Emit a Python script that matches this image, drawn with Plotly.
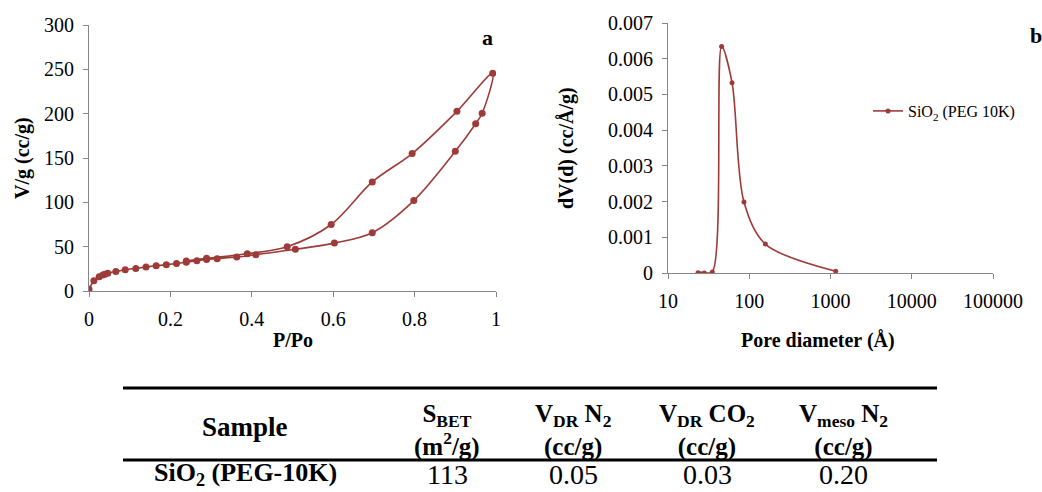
import plotly.graph_objects as go

W, H = 1042, 492
RED = "#9E3A38"
AXC = "#868686"
SERIF = "Liberation Serif"

# ---- chart a: N2 isotherm (adsorption then desorption, one Excel series) ----
iso_p = [0.0, 0.012, 0.025, 0.034, 0.039, 0.046, 0.066, 0.089, 0.115, 0.140,
         0.165, 0.190, 0.215, 0.239, 0.265, 0.289, 0.315, 0.363, 0.410, 0.507,
         0.603, 0.696, 0.798, 0.900, 0.950, 0.966, 0.992,
         0.904, 0.794, 0.696, 0.595, 0.487, 0.389, 0.289, 0.239]
iso_v = [1.9, 11.7, 16.0, 18.0, 19.0, 20.0, 22.0, 24.0, 25.5, 27.0,
         28.5, 29.7, 31.0, 32.5, 34.0, 35.5, 36.5, 38.3, 41.0, 47.0,
         54.0, 65.8, 102.0, 157.5, 188.7, 200.5, 245.5,
         202.6, 155.0, 123.0, 75.0, 50.0, 42.0, 36.8, 33.8]

# ---- chart b: pore size distribution ----
pore_d = [23.4, 25.5, 28.0, 35.1, 45.7, 61.4, 86.1, 157.8, 1159.0]
pore_dv = [0.00001, -0.00002, 0.0, 0.00003, 0.00634, 0.00533, 0.00199, 0.00081, 0.00005]

series_name = "SiO<sub>2</sub> (PEG 10K)"

# ---- table ----
tbl_head1 = ["Sample", "S<sub>BET</sub>", "V<sub>DR</sub> N<sub>2</sub>",
             "V<sub>DR</sub> CO<sub>2</sub>", "V<sub>meso</sub> N<sub>2</sub>"]
tbl_head2 = ["", "(m<sup>2</sup>/g)", "(cc/g)", "(cc/g)", "(cc/g)"]
tbl_row = ["SiO<sub>2</sub> (PEG-10K)", "113", "0.05", "0.03", "0.20"]
col_x = [245, 447, 573, 707, 843]

fig = go.Figure()
fig.add_trace(go.Scatter(x=iso_p, y=iso_v, mode="lines+markers", name=series_name,
                         line=dict(color=RED, width=1.6, shape="spline", smoothing=0.9),
                         marker=dict(color=RED, size=7),
                         xaxis="x", yaxis="y", legend="legend"))
fig.add_trace(go.Scatter(x=pore_d, y=pore_dv, mode="lines+markers", name=series_name,
                         line=dict(color=RED, width=1.6, shape="spline", smoothing=0.9),
                         marker=dict(color=RED, size=5),
                         xaxis="x2", yaxis="y2", legend="legend2"))

def px(x):
    return x / W

def py(y):
    return 1 - y / H

axis_common = dict(showline=True, linecolor=AXC, linewidth=1, ticks="outside",
                   ticklen=5, tickcolor=AXC, showgrid=False, zeroline=False,
                   tickfont=dict(family=SERIF, size=20, color="#000"),
                   ticklabelstandoff=5)

fig.update_layout(
    width=W, height=H, margin=dict(l=0, r=0, t=0, b=0, autoexpand=False),
    paper_bgcolor="white", plot_bgcolor="white",
    font=dict(family=SERIF, color="#000"),
    xaxis=dict(domain=[px(89), px(496)], range=[0, 1], tickvals=[0, 0.2, 0.4, 0.6, 0.8, 1],
               ticktext=["0", "0.2", "0.4", "0.6", "0.8", "1"], anchor="y", **axis_common),
    yaxis=dict(domain=[py(291), py(25)], range=[0, 300], tickvals=[0, 50, 100, 150, 200, 250, 300],
               anchor="x", **axis_common),
    xaxis2=dict(domain=[px(668), px(993)], type="log", range=[1, 5],
                tickvals=[10, 100, 1000, 10000, 100000],
                ticktext=["10", "100", "1000", "10000", "100000"], anchor="y2", **axis_common),
    yaxis2=dict(domain=[py(273), py(23)], range=[0, 0.007],
                tickvals=[0, 0.001, 0.002, 0.003, 0.004, 0.005, 0.006, 0.007],
                ticktext=["0", "0.001", "0.002", "0.003", "0.004", "0.005", "0.006", "0.007"],
                anchor="x2", **axis_common),
    legend=dict(x=px(111), y=py(178), xanchor="left", yanchor="middle",
                bgcolor="rgba(0,0,0,0)", font=dict(family=SERIF, size=16, color="#000"),
                itemwidth=30),
    legend2=dict(x=px(868), y=py(111), xanchor="left", yanchor="middle",
                 bgcolor="rgba(0,0,0,0)", font=dict(family=SERIF, size=16, color="#000"),
                 itemwidth=30),
)

ann = []
def txt(x, y, s, size, bold=False, angle=0, yanchor="middle"):
    ann.append(dict(x=px(x), y=py(y), xref="paper", yref="paper", text=("<b>%s</b>" % s) if bold else s,
                    showarrow=False, xanchor="center", yanchor=yanchor, textangle=angle,
                    font=dict(family=SERIF, size=size, color="#000")))

txt(293, 340, "P/Po", 20, True)
txt(22, 158, "V/g (cc/g)", 20, True, -90)
txt(818, 340, "Pore diameter (Å)", 20, True)
txt(566, 148, "dV(d) (cc/Å/g)", 20, True, -90)
txt(487, 37, "a", 22, True)
txt(1036, 36, "b", 22, True)

# table header / row
txt(col_x[0], 427, tbl_head1[0], 27, True)
for i in range(1, 5):
    txt(col_x[i], 430, tbl_head1[i] + "<br>" + tbl_head2[i], 25, True)
txt(col_x[0], 492, tbl_row[0], 26, True, yanchor="bottom")
for i in range(1, 5):
    txt(col_x[i], 492, tbl_row[i], 28, yanchor="bottom")

fig.update_layout(annotations=ann)
fig.update_layout(shapes=[
    dict(type="line", xref="paper", yref="paper", x0=px(123), x1=px(937), y0=py(388), y1=py(388),
         line=dict(color="black", width=3)),
    dict(type="line", xref="paper", yref="paper", x0=px(123), x1=px(937), y0=py(460), y1=py(460),
         line=dict(color="black", width=3)),
])

fig.write_html("out.html")
